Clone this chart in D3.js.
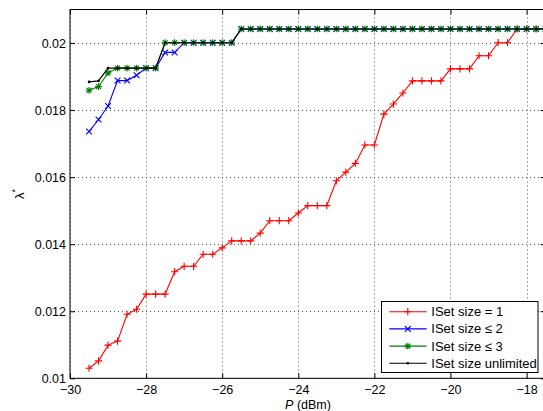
<!DOCTYPE html>
<html>
<head>
<meta charset="utf-8">
<script src="https://cdn.jsdelivr.net/npm/d3@7"></script>
<style>
	body { margin: 0; background: #fff; }
	text { font-family: 'Liberation Sans', Arial, sans-serif; fill: #000; }
</style>
</head>
<body>
<div id="js_chart"></div>
<script>
/*globals d3*/
'use strict';

// P (dBm) values of the sweep
const pValues = [-29.5, -29.25, -29, -28.75, -28.5, -28.25, -28, -27.75, -27.5, -27.25,
	-27, -26.75, -26.5, -26.25, -26, -25.75, -25.5, -25.25, -25, -24.75,
	-24.5, -24.25, -24, -23.75, -23.5, -23.25, -23, -22.75, -22.5, -22.25,
	-22, -21.75, -21.5, -21.25, -21, -20.75, -20.5, -20.25, -20, -19.75,
	-19.5, -19.25, -19, -18.75, -18.5, -18.25, -18, -17.75, -17.5];

const isetOne = [0.0103, 0.01052, 0.01099, 0.01111, 0.01191, 0.01206, 0.01251, 0.01251, 0.01251, 0.01318,
	0.01334, 0.01334, 0.0137, 0.0137, 0.01389, 0.0141, 0.0141, 0.0141, 0.01433, 0.0147,
	0.0147, 0.0147, 0.01493, 0.01515, 0.01515, 0.01515, 0.01589, 0.01615, 0.01641, 0.01696,
	0.01696, 0.01788, 0.01818, 0.01851, 0.01887, 0.01887, 0.01887, 0.01887, 0.01923, 0.01923,
	0.01923, 0.01962, 0.01962, 0.02001, 0.02001, 0.02042, 0.02042, 0.02042, 0.02042];

const isetTwo = [0.01736, 0.01772, 0.01812, 0.01888, 0.01888, 0.01904, 0.01925, 0.01925, 0.01972, 0.01972,
	0.02001, 0.02001, 0.02001, 0.02001, 0.02001, 0.02001, 0.02042, 0.02042, 0.02042, 0.02042,
	0.02042, 0.02042, 0.02042, 0.02042, 0.02042, 0.02042, 0.02042, 0.02042, 0.02042, 0.02042,
	0.02042, 0.02042, 0.02042, 0.02042, 0.02042, 0.02042, 0.02042, 0.02042, 0.02042, 0.02042,
	0.02042, 0.02042, 0.02042, 0.02042, 0.02042, 0.02042, 0.02042, 0.02042, 0.02042];

const isetThree = [0.01859, 0.0187, 0.01911, 0.01925, 0.01925, 0.01925, 0.01925, 0.01925, 0.02001, 0.02001,
	0.02001, 0.02001, 0.02001, 0.02001, 0.02001, 0.02001, 0.02042, 0.02042, 0.02042, 0.02042,
	0.02042, 0.02042, 0.02042, 0.02042, 0.02042, 0.02042, 0.02042, 0.02042, 0.02042, 0.02042,
	0.02042, 0.02042, 0.02042, 0.02042, 0.02042, 0.02042, 0.02042, 0.02042, 0.02042, 0.02042,
	0.02042, 0.02042, 0.02042, 0.02042, 0.02042, 0.02042, 0.02042, 0.02042, 0.02042];

const isetUnlimited = [0.01884, 0.01887, 0.01925, 0.01925, 0.01925, 0.01925, 0.01925, 0.01925, 0.02001, 0.02001,
	0.02001, 0.02001, 0.02001, 0.02001, 0.02001, 0.02001, 0.02042, 0.02042, 0.02042, 0.02042,
	0.02042, 0.02042, 0.02042, 0.02042, 0.02042, 0.02042, 0.02042, 0.02042, 0.02042, 0.02042,
	0.02042, 0.02042, 0.02042, 0.02042, 0.02042, 0.02042, 0.02042, 0.02042, 0.02042, 0.02042,
	0.02042, 0.02042, 0.02042, 0.02042, 0.02042, 0.02042, 0.02042, 0.02042, 0.02042];

const seriesNames = ['ISet size = 1', 'ISet size \u2264 2', 'ISet size \u2264 3', 'ISet size unlimited'];
const xTicks = [-30, -28, -26, -24, -22, -20, -18];
const yTicks = [0.01, 0.012, 0.014, 0.016, 0.018, 0.02];
const yTickLabels = ['0.01', '0.012', '0.014', '0.016', '0.018', '0.02'];

const width = 543;
const height = 411;
const plot = { left: 70, right: 545.6, top: 9.5, bottom: 378.3 };

const seriesStyle = [
	{ values: isetOne, color: 'rgb(255,0,0)', marker: 'plus' },
	{ values: isetTwo, color: 'rgb(0,0,255)', marker: 'cross' },
	{ values: isetThree, color: 'rgb(0,128,0)', marker: 'star' },
	{ values: isetUnlimited, color: 'rgb(0,0,0)', marker: 'dot' }
];

const x = d3.scaleLinear().domain([-30, -17.5]).range([plot.left, plot.right]);
const y = d3.scaleLinear().domain([0.01, 0.021]).range([plot.bottom, plot.top]);

const svg = d3.select('#js_chart').append('svg')
	.attr('width', width)
	.attr('height', height);

function markerPath(kind) {
	if (kind === 'plus') { return 'M-3.6,0H3.6M0,-3.6V3.6'; }
	if (kind === 'cross') { return 'M-2.9,-2.9L2.9,2.9M-2.9,2.9L2.9,-2.9'; }
	if (kind === 'star') { return 'M-3.4,0H3.4M0,-3.4V3.4M-2.5,-2.5L2.5,2.5M-2.5,2.5L2.5,-2.5'; }
	return null;
}

function drawMarker(g, kind, color) {
	if (kind === 'dot') {
		g.append('circle').attr('r', 1.3).style('fill', color);
	} else {
		g.append('path').attr('d', markerPath(kind))
			.style('fill', 'none').style('stroke', color).style('stroke-width', 1.1);
	}
}

// grid
const grid = svg.append('g');
xTicks.forEach(function (t) {
	const px = Math.round(x(t)) + 0.5;
	grid.append('line').attr('x1', px).attr('x2', px).attr('y1', plot.top).attr('y2', plot.bottom)
		.style('stroke', '#555').style('stroke-dasharray', '1,3');
});
yTicks.forEach(function (t) {
	const py = Math.round(y(t)) + 0.5;
	grid.append('line').attr('x1', plot.left).attr('x2', plot.right).attr('y1', py).attr('y2', py)
		.style('stroke', '#555').style('stroke-dasharray', '1,3');
});

// axes with inward ticks
const xAxis = svg.append('g').attr('transform', 'translate(0,' + plot.bottom + ')')
	.call(d3.axisBottom(x).tickValues(xTicks).tickSize(-5).tickPadding(7).tickFormat(d3.format('d')));
const xAxisTop = svg.append('g').attr('transform', 'translate(0,' + plot.top + ')')
	.call(d3.axisTop(x).tickValues(xTicks).tickSize(-5).tickFormat(''));
const yAxis = svg.append('g').attr('transform', 'translate(' + plot.left + ',0)')
	.call(d3.axisLeft(y).tickValues(yTicks).tickSize(-5).tickPadding(4)
		.tickFormat(function (d, i) { return yTickLabels[i]; }));
const yAxisRight = svg.append('g').attr('transform', 'translate(' + plot.right + ',0)')
	.call(d3.axisRight(y).tickValues(yTicks).tickSize(-5).tickFormat(''));
[xAxis, xAxisTop, yAxis, yAxisRight].forEach(function (a) {
	a.select('.domain').remove();
	a.selectAll('text').style('font-size', '12.5px').style('font-family', "'Liberation Sans', Arial, sans-serif");
	a.selectAll('line').style('stroke', '#000');
});

svg.append('rect')
	.attr('x', plot.left).attr('y', plot.top)
	.attr('width', plot.right - plot.left).attr('height', plot.bottom - plot.top)
	.style('fill', 'none').style('stroke', '#000').style('stroke-width', 1);

// series
const line = d3.line()
	.x(function (d, i) { return x(pValues[i]); })
	.y(function (d) { return y(d); });

seriesStyle.forEach(function (s) {
	const g = svg.append('g');
	g.append('path').datum(s.values).attr('d', line)
		.style('fill', 'none').style('stroke', s.color).style('stroke-width', 1.1);
	g.selectAll('.mk').data(s.values).enter().append('g')
		.attr('transform', function (d, i) { return 'translate(' + x(pValues[i]) + ',' + y(d) + ')'; })
		.each(function () { drawMarker(d3.select(this), s.marker, s.color); });
});

// axis labels
const xLabel = svg.append('text')
	.attr('x', 308).attr('y', 408.5)
	.style('text-anchor', 'middle').style('font-size', '12.5px');
xLabel.append('tspan').style('font-style', 'italic').text('P');
xLabel.append('tspan').text(' (dBm)');

const yLabel = svg.append('text')
	.attr('transform', 'translate(24,194) rotate(-90)')
	.style('text-anchor', 'middle').style('font-size', '13px');
yLabel.append('tspan').text('\u03bb');
yLabel.append('tspan').attr('dy', '-6').style('font-size', '9px').text('*');

// legend
const legend = svg.append('g');
legend.append('rect')
	.attr('x', 381.5).attr('y', 301.5).attr('width', 156.5).attr('height', 71)
	.style('fill', '#fff').style('stroke', '#000').style('stroke-width', 1);
const rowY = [311.7, 328.9, 346.1, 363.3];
seriesStyle.forEach(function (s, i) {
	legend.append('line')
		.attr('x1', 389.3).attr('x2', 426.7).attr('y1', rowY[i]).attr('y2', rowY[i])
		.style('stroke', s.color).style('stroke-width', 1.1);
	const mg = legend.append('g').attr('transform', 'translate(407.8,' + rowY[i] + ')');
	drawMarker(mg, s.marker, s.color);
	legend.append('text')
		.attr('x', 431.3).attr('y', rowY[i] + 4.5)
		.style('font-size', '13px')
		.text(seriesNames[i]);
});
</script>
</body>
</html>
